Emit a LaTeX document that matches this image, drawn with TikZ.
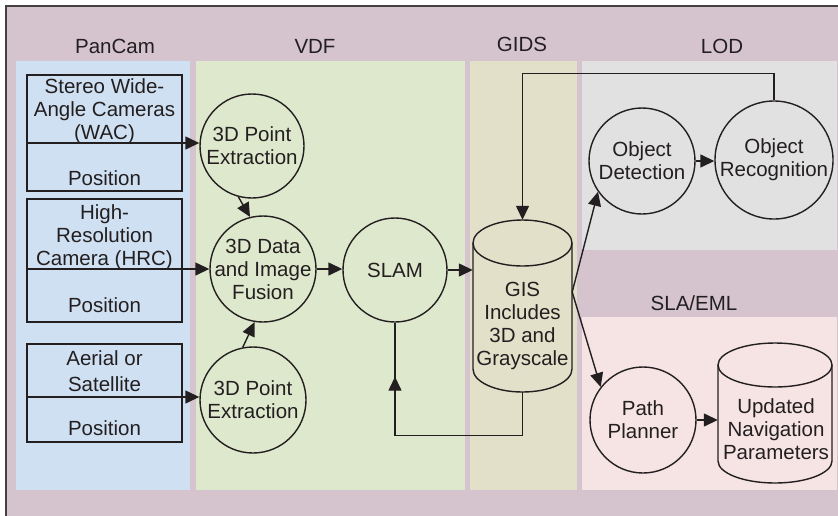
\documentclass[tikz,border=0pt]{standalone}
\usepackage{fontspec}
\setmainfont{Liberation Sans}
\usetikzlibrary{arrows.meta,decorations.markings,calc}

\definecolor{frameBg}{HTML}{D5C4CE}
\definecolor{panBlue}{HTML}{CFE0F2}
\definecolor{vdfGreen}{HTML}{DEE8CC}
\definecolor{gidsTan}{HTML}{E3E0CA}
\definecolor{lodGray}{HTML}{E1E1E1}
\definecolor{slaPink}{HTML}{F6E3E3}
\definecolor{ink}{HTML}{231F20}

\begin{document}
\begin{tikzpicture}[x=1pt,y=1pt,
  every node/.style={font=\fontsize{20.5}{23}\selectfont, text=ink},
  tipshape/.tip={Triangle[length=14pt,width=13pt]},
  conn/.style={draw=ink, line width=1.4pt, -tipshape},
  wire/.style={draw=ink, line width=1.4pt},
  proc/.style={circle, draw=ink, line width=1.4pt, inner sep=0pt},
  src/.style={rectangle, draw=ink, line width=1.4pt, minimum width=155pt, inner sep=0pt},
  txt/.style={align=center, inner sep=0pt},
  store/.style={rectangle, inner sep=0pt, draw=none},
  lanehead/.style={inner sep=0pt}]

% page and outer frame
\clip (0,0) rectangle (838,-515);
\fill[white] (0,0) rectangle (838,-515);
\filldraw[fill=frameBg, draw=ink!85, line width=1.4pt] (6,-6) rectangle (860,-540);

% swim lanes
\fill[panBlue]  (16,-61)  rectangle (190,-490);
\fill[vdfGreen] (196,-61) rectangle (465,-490);
\fill[gidsTan]  (470,-61) rectangle (577,-490);
\fill[lodGray]  (582,-61) rectangle (837,-250);
\fill[slaPink]  (582,-317) rectangle (837,-490);

% lane headings
\node[lanehead] (hPan)  at (115,-46)   {PanCam};
\node[lanehead] (hVdf)  at (315,-46)   {VDF};
\node[lanehead] (hGids) at (522,-44)   {GIDS};
\node[lanehead] (hLod)  at (722,-46)   {LOD};
\node[lanehead] (hSla)  at (694,-303)  {SLA/EML};

% sensor sources
\node[src, minimum height=116pt] (wac) at (104.5,-133) {};
\node[txt] (wacT) at (104.5,-111) {Stereo Wide-\\Angle Cameras\\(WAC)};
\node[txt] (wacP) at (104.5,-178) {Position};

\node[src, minimum height=123pt] (hrc) at (104.5,-260.5) {};
\node[txt] (hrcT) at (104.5,-237) {High-\\Resolution\\Camera (HRC)};
\node[txt] (hrcP) at (104.5,-305) {Position};

\node[src, minimum height=98pt] (aer) at (104.5,-393) {};
\node[txt] (aerT) at (104.5,-371) {Aerial or\\[3pt]Satellite};
\node[txt] (aerP) at (104.5,-428) {Position};

% processing steps
\node[proc, minimum size=104pt, label={[txt]center:3D Point\\Extraction}] (pe1) at (252,-146) {};
\node[proc, minimum size=106pt, label={[txt]center:3D Data\\and Image\\Fusion}] (fus) at (263,-269) {};
\node[proc, minimum size=106pt, label={[txt]center:3D Point\\Extraction}] (pe2) at (253,-400) {};
\node[proc, minimum size=104pt, label={[txt]center:SLAM}] (slam) at (395,-270) {};
\node[proc, minimum size=106pt, label={[txt]center:Object\\Detection}] (od) at (642,-161) {};
\node[proc, minimum size=118pt, label={[txt]center:Object\\Recognition}] (orc) at (774,-160) {};
\node[proc, minimum size=106pt, label={[txt]center:Path\\Planner}] (pp) at (643,-420) {};

% data stores
\draw[wire] (473,-243) -- (473,-369)
  arc[start angle=180, end angle=360, x radius=49.5, y radius=23] -- (572,-243)
  arc[start angle=0, end angle=180, x radius=49.5, y radius=23] -- cycle;
\draw[wire] (473,-243) arc[start angle=180, end angle=360, x radius=49.5, y radius=23];
\node[store, minimum width=99pt, minimum height=172pt] (gis) at (522.5,-306) {};
\node[txt] (gisT) at (522.5,-326) {GIS\\Includes\\3D and\\Grayscale};

\draw[wire] (718,-365) -- (718,-461)
  arc[start angle=180, end angle=360, x radius=57, y radius=22] -- (832,-365)
  arc[start angle=0, end angle=180, x radius=57, y radius=22] -- cycle;
\draw[wire] (718,-365) arc[start angle=180, end angle=360, x radius=57, y radius=22];
\node[store, minimum width=114pt, minimum height=140pt] (unp) at (775,-413) {};
\node[txt] (unpT) at (776,-429) {Updated\\Navigation\\Parameters};

% connectors
\coordinate (wacIn) at ([yshift=-10pt]wac.west);
\coordinate (hrcIn) at ([yshift=-8.5pt]hrc.west);
\coordinate (aerIn) at ([yshift=-4pt]aer.west);
\coordinate (gisOut) at ([yshift=14pt]gis.east);

\draw[conn] (wacIn) -- (wacIn -| pe1.west);
\draw[conn] (hrcIn) -- (hrcIn -| fus.west);
\draw[conn] (aerIn) -- (aerIn -| pe2.west);
\draw[conn] (pe1.255) -- (fus.104);
\draw[conn] (pe2.101) -- (fus.261);
\draw[conn] (fus.east) -- (fus.east -| slam.west);
\draw[conn] (slam.east) -- (slam.east -| gis.west);
\draw[conn] (gisOut) -- (od.215);
\draw[conn] (gisOut) -- (pp.142);
\draw[conn] (od.east) -- (od.east -| orc.west);
\draw[conn] (pp.east) -- (pp.east -| unp.west);
\draw[conn] (orc.north) -- ++(0,27) -| (gis.north);
\draw[wire, postaction={decorate}, decoration={markings,
    mark=at position 229pt with {\arrow{tipshape}}}]
  (gis.south) -- ++(0,-43) -| (slam.south);
\end{tikzpicture}
\end{document}
